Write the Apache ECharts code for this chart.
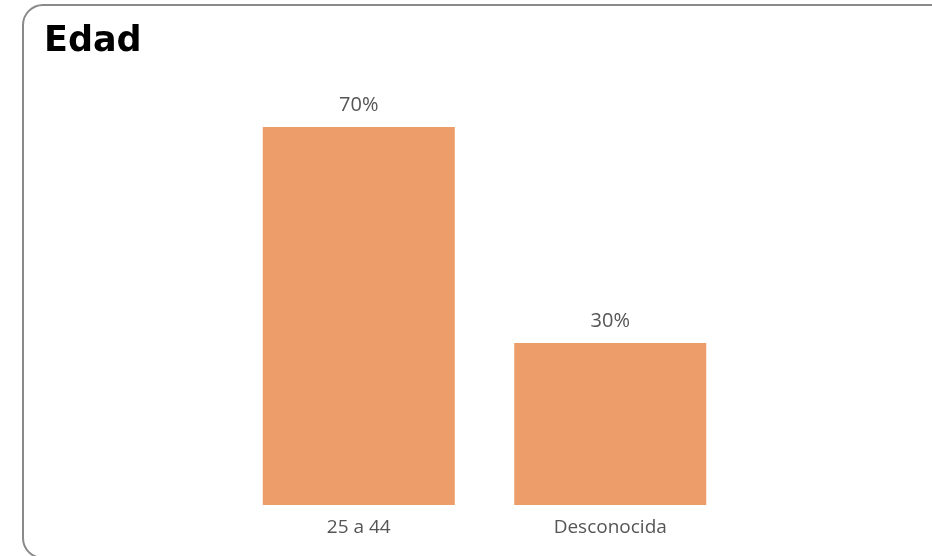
<!DOCTYPE html>
<html><head><meta charset="utf-8">
<script src="https://cdn.jsdelivr.net/npm/echarts@6/dist/echarts.min.js"></script>
<style>html,body{margin:0;padding:0;background:#fff}#c{width:932px;height:556px}</style>
</head><body><div id="c"></div>
<script>
const categories = ['25 a 44', 'Desconocida'];
const values = [70, 30];
const chart = echarts.init(document.getElementById('c'), null, {renderer:'canvas'});
chart.setOption({
  animation: false,
  graphic: [{
    type: 'rect', left: 22, top: 4, z: -1,
    shape: {width: 940, height: 553, r: 20},
    style: {fill: '#fff', stroke: '#8a8a8a', lineWidth: 2}
  }],
  title: {
    text: 'Edad', left: 39, top: 19,
    textStyle: {fontFamily: 'DejaVu Sans', fontWeight: 'bold', fontSize: 35, color: '#000'}
  },
  grid: {left: 233, width: 503, top: 127, bottom: 51},
  xAxis: {
    type: 'category', data: categories,
    axisLine: {show: false}, axisTick: {show: false},
    axisLabel: {margin: 13, fontFamily: 'Open Sans', fontSize: 19, color: '#555'}
  },
  yAxis: {type: 'value', min: 0, max: 70, show: false, splitLine: {show: false}},
  series: [{
    type: 'bar', data: values, barWidth: 192,
    itemStyle: {color: '#ed9d69'},
    label: {show: true, position: 'top', distance: 12, formatter: '{c}%',
      fontFamily: 'Open Sans', fontSize: 20, color: '#555'}
  }]
});
</script></body></html>
